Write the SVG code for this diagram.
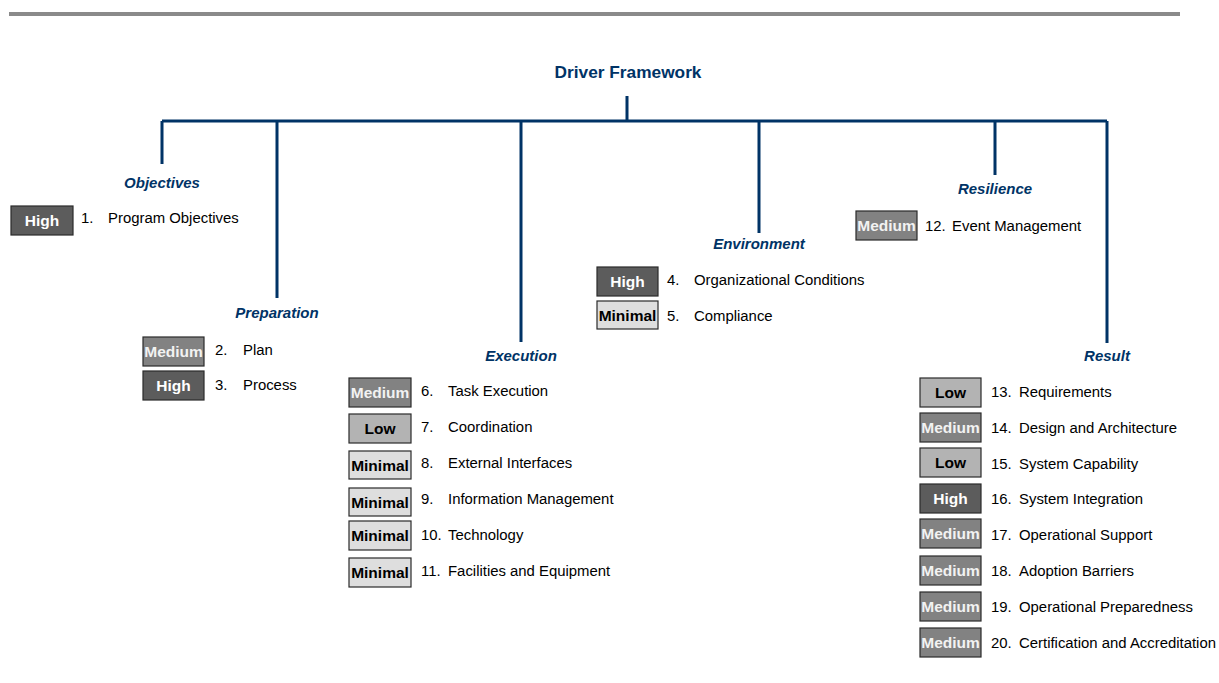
<svg xmlns="http://www.w3.org/2000/svg" width="1219" height="683" viewBox="0 0 1219 683">
<style>
.bar{fill:#8a8a8a}
.ln{stroke:#003366;stroke-width:3;fill:none}
.title{font-family:"Liberation Sans",Arial,sans-serif;font-weight:bold;font-size:17.3px;fill:#003366;text-anchor:middle}
.cat{font-family:"Liberation Sans",Arial,sans-serif;font-weight:bold;font-style:italic;font-size:15px;fill:#003366;text-anchor:middle}
.b{stroke:#2a2a2a;stroke-width:1.2}
.high{fill:#5c5c5c}
.med{fill:#828282}
.low{fill:#b3b3b3}
.min{fill:#dedede}
.bt{font-family:"Liberation Sans",Arial,sans-serif;font-weight:bold;font-size:15.5px;text-anchor:middle;dominant-baseline:central}
.tw{fill:#fff}
.tm{fill:#f2f2f2}
.tk{fill:#000}
.it{font-family:"Liberation Sans",Arial,sans-serif;font-size:14.9px;fill:#000;dominant-baseline:central}
</style>
<rect class="bar" x="9" y="12" width="1171" height="4"/>
<g id="connectors">
<path class="ln" d="M627 96V121M162 121H1107M162 121V164M277 121V298M521 121V342M759 121V233M995 121V175M1107 121V343"/>
</g>
<g id="root"><text class="title" x="628" y="78">Driver Framework</text></g>
<g id="objectives">
<text class="cat" x="162" y="188">Objectives</text>
<rect class="b high" x="11" y="206" width="62" height="29"/><text class="bt tw" x="42" y="220.5">High</text>
<text class="it" x="81" y="218">1.</text><text class="it" x="108" y="218">Program Objectives</text>
</g>
<g id="preparation">
<text class="cat" x="277" y="318">Preparation</text>
<rect class="b med" x="143" y="337" width="61" height="29"/><text class="bt tm" x="173.5" y="351.5">Medium</text>
<text class="it" x="215" y="350">2.</text><text class="it" x="243" y="350">Plan</text>
<rect class="b high" x="143" y="371" width="61" height="29"/><text class="bt tw" x="173.5" y="385.5">High</text>
<text class="it" x="215" y="385">3.</text><text class="it" x="243" y="385">Process</text>
</g>
<g id="execution">
<text class="cat" x="521" y="361">Execution</text>
<rect class="b med" x="349" y="378" width="62" height="29"/><text class="bt tm" x="380" y="392.5">Medium</text>
<text class="it" x="421" y="391">6.</text><text class="it" x="448" y="391">Task Execution</text>
<rect class="b low" x="349" y="414" width="62" height="29"/><text class="bt tk" x="380" y="428.5">Low</text>
<text class="it" x="421" y="427">7.</text><text class="it" x="448" y="427">Coordination</text>
<rect class="b min" x="349" y="451" width="62" height="28"/><text class="bt tk" x="380" y="465">Minimal</text>
<text class="it" x="421" y="463">8.</text><text class="it" x="448" y="463">External Interfaces</text>
<rect class="b min" x="349" y="488" width="62" height="28"/><text class="bt tk" x="380" y="502">Minimal</text>
<text class="it" x="421" y="499">9.</text><text class="it" x="448" y="499">Information Management</text>
<rect class="b min" x="349" y="521" width="62" height="29"/><text class="bt tk" x="380" y="535.5">Minimal</text>
<text class="it" x="421" y="535">10.</text><text class="it" x="448" y="535">Technology</text>
<rect class="b min" x="349" y="558" width="62" height="29"/><text class="bt tk" x="380" y="572.5">Minimal</text>
<text class="it" x="421" y="571">11.</text><text class="it" x="448" y="571">Facilities and Equipment</text>
</g>
<g id="environment">
<text class="cat" x="759" y="249">Environment</text>
<rect class="b high" x="597" y="267" width="61" height="29"/><text class="bt tw" x="627.5" y="281.5">High</text>
<text class="it" x="667" y="280">4.</text><text class="it" x="694" y="280">Organizational Conditions</text>
<rect class="b min" x="597" y="301" width="61" height="28"/><text class="bt tk" x="627.5" y="315">Minimal</text>
<text class="it" x="667" y="316">5.</text><text class="it" x="694" y="316">Compliance</text>
</g>
<g id="resilience">
<text class="cat" x="995" y="194">Resilience</text>
<rect class="b med" x="856" y="211" width="61" height="29"/><text class="bt tm" x="886.5" y="225.5">Medium</text>
<text class="it" x="925" y="226">12.</text><text class="it" x="952" y="226">Event Management</text>
</g>
<g id="result">
<text class="cat" x="1107" y="361">Result</text>
<rect class="b low" x="920" y="378" width="61" height="29"/><text class="bt tk" x="950.5" y="392.5">Low</text>
<text class="it" x="991" y="392">13.</text><text class="it" x="1019" y="392">Requirements</text>
<rect class="b med" x="920" y="413" width="61" height="29"/><text class="bt tm" x="950.5" y="427.5">Medium</text>
<text class="it" x="991" y="428">14.</text><text class="it" x="1019" y="428">Design and Architecture</text>
<rect class="b low" x="920" y="448" width="61" height="29"/><text class="bt tk" x="950.5" y="462.5">Low</text>
<text class="it" x="991" y="464">15.</text><text class="it" x="1019" y="464">System Capability</text>
<rect class="b high" x="920" y="484" width="61" height="29"/><text class="bt tw" x="950.5" y="498.5">High</text>
<text class="it" x="991" y="499">16.</text><text class="it" x="1019" y="499">System Integration</text>
<rect class="b med" x="920" y="519" width="61" height="29"/><text class="bt tm" x="950.5" y="533.5">Medium</text>
<text class="it" x="991" y="535">17.</text><text class="it" x="1019" y="535">Operational Support</text>
<rect class="b med" x="920" y="556" width="61" height="29"/><text class="bt tm" x="950.5" y="570.5">Medium</text>
<text class="it" x="991" y="571">18.</text><text class="it" x="1019" y="571">Adoption Barriers</text>
<rect class="b med" x="920" y="592" width="61" height="29"/><text class="bt tm" x="950.5" y="606.5">Medium</text>
<text class="it" x="991" y="607">19.</text><text class="it" x="1019" y="607">Operational Preparedness</text>
<rect class="b med" x="920" y="628" width="61" height="29"/><text class="bt tm" x="950.5" y="642.5">Medium</text>
<text class="it" x="991" y="643">20.</text><text class="it" x="1019" y="643">Certification and Accreditation</text>
</g>
</svg>
